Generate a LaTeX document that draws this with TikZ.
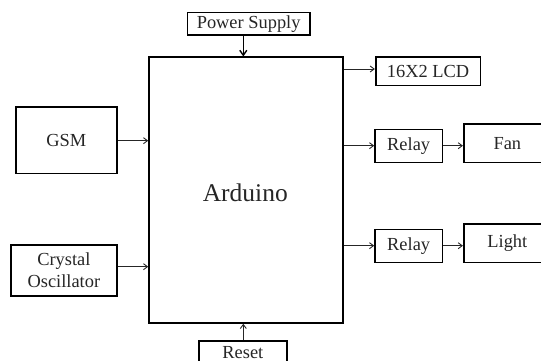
\documentclass[tikz,border=0pt]{standalone}
\usepackage{fontspec}
\setmainfont{Liberation Serif}
\usetikzlibrary{arrows.meta}
\begin{document}
\begin{tikzpicture}[x=1pt,y=-1pt,
  blk/.style={draw=black, line width=1.6pt, fill=white, inner sep=0pt, align=center,
    font=\fontsize{18.4}{22}\selectfont, text=black!85},
  arr/.style={draw=black!85, line width=0.9pt, -{Straight Barb[length=4pt,width=6pt]}},
  parr/.style={draw=black, line width=1.4pt, -{Straight Barb[length=5pt,width=7pt]}}]
\useasboundingbox (0,0) rectangle (541,361);
\clip (0,0) rectangle (541,361);
\node[blk, minimum width=193.7pt, minimum height=265.7pt] (ard) at (245.85,190.15) {};
\node[font=\fontsize{25.5}{30}\selectfont, text=black!85] (ardt) at (245.3,192.7) {Arduino};
\node[blk, minimum width=122.7pt, minimum height=22.5pt] (pow) at (248.65,23.95) {Power Supply};
\node[blk, minimum width=104.6pt, minimum height=28.4pt] (lcd) at (428,71.5) {16X2 LCD};
\node[blk, minimum width=100.7pt, minimum height=66.6pt] (gsm) at (66.35,140) {GSM};
\node[blk, minimum width=105.7pt, minimum height=50.7pt] (crys) at (63.85,270.35) {Crystal\\Oscillator};
\node[blk, minimum width=67.3pt, minimum height=33pt] (rel1) at (408.65,145.8) {Relay};
\node[blk, minimum width=67.3pt, minimum height=33pt] (rel2) at (408.65,245.8) {Relay};
\node[blk, minimum width=87.3pt, minimum height=38.3pt] (fan) at (507.35,143.15) {Fan};
\node[blk, minimum width=87.3pt, minimum height=38.3pt] (light) at (507.35,243.15) {Light};
\node[blk, minimum width=87.7pt, minimum height=23pt] (reset) at (242.85,352.2) {Reset};
\coordinate (px) at (243.3,0);
\coordinate (ylcd) at (0,69);
\coordinate (ygsm) at (0,140.7);
\coordinate (ycry) at (0,266.7);
\coordinate (yr1) at (0,145.7);
\coordinate (yr2) at (0,245.7);
\draw[parr] (pow.south -| px) -- (ard.north -| px);
\draw[arr] (reset.north -| px) -- (ard.south -| px);
\draw[arr] (gsm.east |- ygsm) -- (ard.west |- ygsm);
\draw[arr] (crys.east |- ycry) -- (ard.west |- ycry);
\draw[arr] (ard.east |- ylcd) -- (lcd.west |- ylcd);
\draw[arr] (ard.east |- yr1) -- (rel1.west |- yr1);
\draw[arr] (ard.east |- yr2) -- (rel2.west |- yr2);
\draw[arr] (rel1.east |- yr1) -- (fan.west |- yr1);
\draw[arr] (rel2.east |- yr2) -- (light.west |- yr2);
\end{tikzpicture}
\end{document}
